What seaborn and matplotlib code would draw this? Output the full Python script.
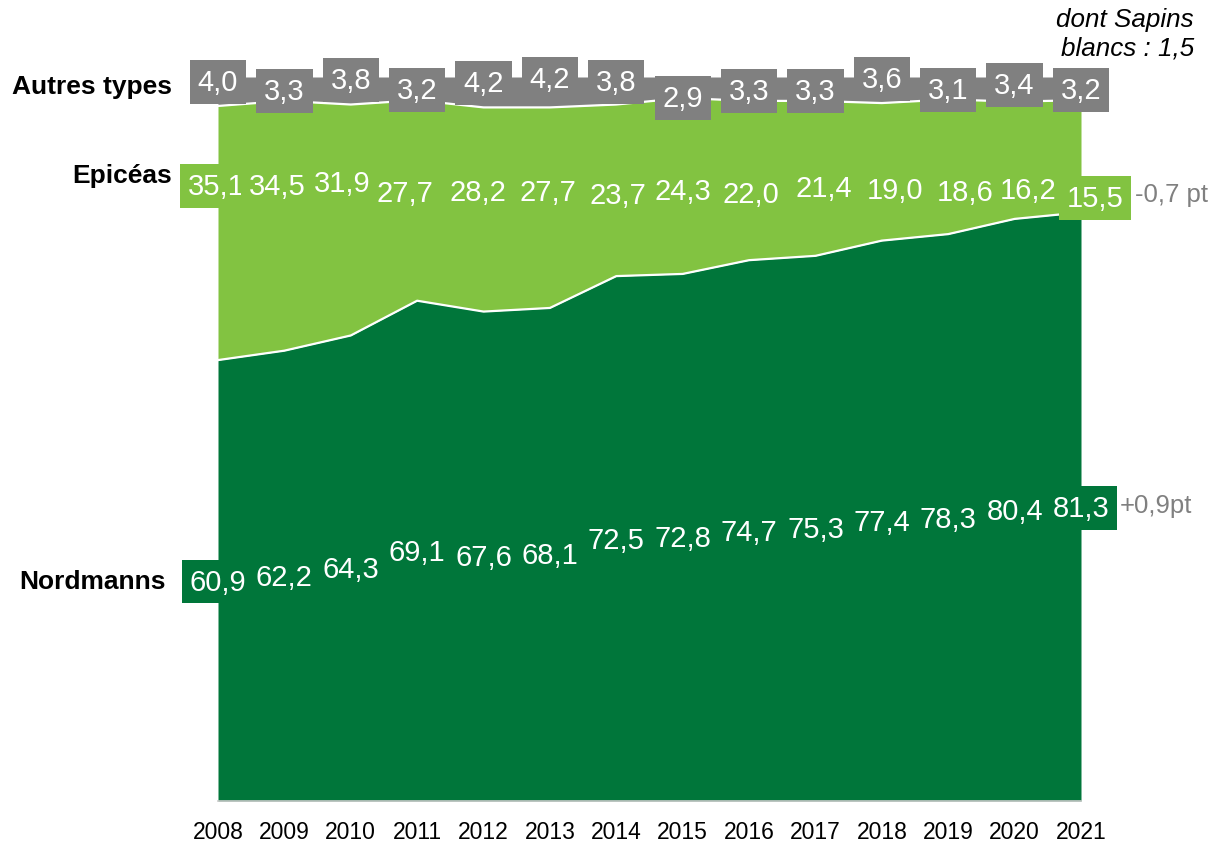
"""
Sapins de Noel : repartition des ventes par type (en %), 2008-2021.
Aires empilees Nordmanns / Epiceas / Autres types.
"""

import matplotlib
matplotlib.use("Agg")
import matplotlib.pyplot as plt
import seaborn as sns

# Data
years = list(range(2008, 2022))
nordmanns = [60.9, 62.2, 64.3, 69.1, 67.6, 68.1, 72.5, 72.8, 74.7, 75.3, 77.4, 78.3, 80.4, 81.3]
epiceas = [35.1, 34.5, 31.9, 27.7, 28.2, 27.7, 23.7, 24.3, 22.0, 21.4, 19.0, 18.6, 16.2, 15.5]
autres = [4.0, 3.3, 3.8, 3.2, 4.2, 4.2, 3.8, 2.9, 3.3, 3.3, 3.6, 3.1, 3.4, 3.2]
series_names = ["Nordmanns", "Epicéas", "Autres types"]
delta_nordmanns = "+0,9pt"
delta_epiceas = "-0,7 pt"
note_sapins = "dont Sapins\nblancs : 1,5"

# Colours
DARK_GREEN = "#00763A"
LIGHT_GREEN = "#82C341"
GREY = "#808080"

# label nudges (pixels, x right / y down), placed by hand in the original
epi_dx = [-2, -7, -9, -12, -6, -2, 2, 0, 2, 8, 13, 17, 14, 14]
epi_dy = [-4, -4, -7, 3, 2, 2, 5, 1, 4, -2, 0, 2, 0, 8]
aut_dy = [-6, 3, -8, 2, -5, -9, -6, 10, 3, 3, -9, 2, -3, 2]


def fmt(v):
    return f"{v:.1f}".replace(".", ",")


sns.set_theme(style="white")
plt.rcParams["font.family"] = ["Liberation Sans", "DejaVu Sans"]

fig = plt.figure(figsize=(12.11, 8.45), dpi=100)
ax = fig.add_axes([218 / 1211, 1 - 802 / 845, (1081 - 218) / 1211, (802 - 78) / 845])

ax.stackplot(years, nordmanns, epiceas, autres,
             colors=[DARK_GREEN, LIGHT_GREEN, GREY], linewidth=0)

# white separators between the bands
cum1 = nordmanns
cum2 = [a + b for a, b in zip(nordmanns, epiceas)]
sns.lineplot(x=years, y=cum1, color="white", linewidth=1.6, ax=ax)
sns.lineplot(x=years, y=cum2, color="white", linewidth=1.6, ax=ax)

ax.set_xlim(2008, 2021)
ax.set_ylim(0, 100)
ax.set_xticks(years)
ax.set_xticklabels([str(y) for y in years], fontsize=16.5, color="black")
ax.set_yticks([])
ax.tick_params(axis="x", length=0, pad=14)
for side in ["left", "right", "top"]:
    ax.spines[side].set_visible(False)
ax.spines["bottom"].set_color("#C8C8C8")
ax.spines["bottom"].set_linewidth(1.2)


def label(x, y, txt, color, dx=0, dy=0):
    return ax.annotate(txt, (x, y), xytext=(dx, -dy), textcoords="offset pixels",
                       ha="center", va="center", fontsize=21, color="white",
                       bbox=dict(boxstyle="square,pad=0.27", fc=color, ec="none"),
                       zorder=5, annotation_clip=False)


for i, yr in enumerate(years):
    label(yr, nordmanns[i] / 2, fmt(nordmanns[i]), DARK_GREEN, 0, 1)
    label(yr, 84.5, fmt(epiceas[i]), LIGHT_GREEN, epi_dx[i], epi_dy[i] + 1)
    label(yr, 98.6, fmt(autres[i]), GREY, 0, aut_dy[i] + 1)

# evolution 2021 vs 2020
ax.annotate(delta_epiceas, (2021, 84.5), xytext=(54, -epi_dy[-1] + 3), textcoords="offset pixels",
            ha="left", va="center", fontsize=18.5, color=GREY, annotation_clip=False)
ax.annotate(delta_nordmanns, (2021, nordmanns[-1] / 2), xytext=(39, 2), textcoords="offset pixels",
            ha="left", va="center", fontsize=18.5, color=GREY, annotation_clip=False)

# series names on the left
fig.text(172 / 1211, 1 - 87 / 845, series_names[2], ha="right", va="center",
         fontsize=19, fontweight="bold", color="black")
fig.text(172 / 1211, 1 - 176 / 845, series_names[1], ha="right", va="center",
         fontsize=19, fontweight="bold", color="black")
fig.text(166 / 1211, 1 - 582 / 845, series_names[0], ha="right", va="center",
         fontsize=19, fontweight="bold", color="black")

fig.text(1194 / 1211, 1 - 34 / 845, note_sapins, ha="right", va="center",
         fontsize=18.7, fontstyle="italic", color="black", linespacing=1.25)

fig.savefig("out.png", dpi=100)
plt.close(fig)
